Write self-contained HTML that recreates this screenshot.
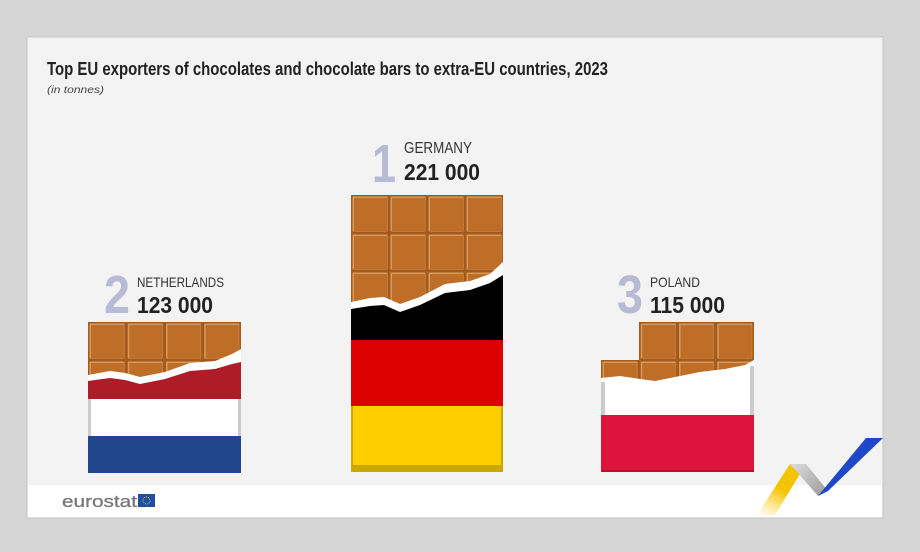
<!DOCTYPE html>
<html><head><meta charset="utf-8"><style>
html,body{margin:0;padding:0;background:#d5d5d5;}
svg{display:block}
</style></head><body>
<svg width="920" height="552" viewBox="0 0 920 552" xmlns="http://www.w3.org/2000/svg" font-family="Liberation Sans, sans-serif">
<defs>
<pattern id="pg" x="351" y="195" width="38" height="38" patternUnits="userSpaceOnUse">
<rect width="38" height="38" fill="#a35a1c"/><rect x="1.5" y="1.5" width="35" height="35" fill="#d9995a"/><rect x="3" y="3" width="33" height="33" fill="#bf6e28"/></pattern>
<pattern id="pn" x="88" y="322" width="38.25" height="38" patternUnits="userSpaceOnUse">
<rect width="38.25" height="38" fill="#a35a1c"/><rect x="1.5" y="1.5" width="35" height="35" fill="#d9995a"/><rect x="3" y="3" width="33" height="33" fill="#bf6e28"/></pattern>
<pattern id="pp" x="601" y="322" width="38.25" height="38" patternUnits="userSpaceOnUse">
<rect width="38.25" height="38" fill="#a35a1c"/><rect x="1.5" y="1.5" width="35" height="35" fill="#d9995a"/><rect x="3" y="3" width="33" height="33" fill="#bf6e28"/></pattern>
<linearGradient id="yl" x1="0" y1="1" x2="0.5" y2="0"><stop offset="0" stop-color="#ffd42a" stop-opacity="0"/><stop offset="0.6" stop-color="#f5c400"/></linearGradient>
<linearGradient id="gr" x1="0" y1="0" x2="1" y2="1"><stop offset="0" stop-color="#ddd"/><stop offset="1" stop-color="#999"/></linearGradient>
</defs>
<rect x="27" y="37" width="856" height="481" fill="#f3f3f3" stroke="#c8c8c8"/>
<rect x="28" y="485" width="854" height="32" fill="#fff"/>
<text x="47" y="75" font-size="18" font-weight="bold" fill="#222" textLength="561" lengthAdjust="spacingAndGlyphs">Top EU exporters of chocolates and chocolate bars to extra-EU countries, 2023</text>
<text x="47" y="93" font-size="10.5" font-style="italic" fill="#444" textLength="57" lengthAdjust="spacingAndGlyphs">(in tonnes)</text>

<!-- Germany -->
<text x="372" y="182" font-size="54" font-weight="bold" fill="#b8bbd6" textLength="24" lengthAdjust="spacingAndGlyphs">1</text>
<text x="404" y="153" font-size="16" fill="#333" textLength="68" lengthAdjust="spacingAndGlyphs">GERMANY</text>
<text x="404" y="180" font-size="23" font-weight="bold" fill="#222" textLength="76" lengthAdjust="spacingAndGlyphs">221 000</text>
<rect x="351" y="195" width="152" height="130" fill="url(#pg)"/>
<path d="M351 302 L370 298 L384 297 L400 304 L420 297 L445 284 L470 281 L490 274 L503 262 L503 340 L351 340Z" fill="#fff"/>
<path d="M351 309 L370 306 L384 305 L400 312 L420 305 L445 293 L470 290 L490 283 L503 275 L503 340 L351 340Z" fill="#000"/>
<rect x="351" y="340" width="152" height="66" fill="#dd0000"/>
<rect x="351" y="406" width="152" height="66" fill="#c9a800"/>
<rect x="353" y="406" width="148" height="59" fill="#ffce00"/>

<!-- Netherlands -->
<text x="104" y="313" font-size="54" font-weight="bold" fill="#b8bbd6" textLength="26" lengthAdjust="spacingAndGlyphs">2</text>
<text x="137" y="287" font-size="14" fill="#333" textLength="87" lengthAdjust="spacingAndGlyphs">NETHERLANDS</text>
<text x="137" y="313" font-size="23" font-weight="bold" fill="#222" textLength="76" lengthAdjust="spacingAndGlyphs">123 000</text>
<rect x="88" y="322" width="153" height="60" fill="url(#pn)"/>
<path d="M88 375 L110 371 L125 373 L140 377 L165 372 L190 363 L215 361 L232 354 L241 349 L241 400 L88 400Z" fill="#fff"/>
<path d="M88 381 L110 378 L125 380 L140 384 L165 379 L190 371 L215 369 L232 364 L241 362 L241 400 L88 400Z" fill="#ae1c28"/>
<rect x="88" y="399" width="153" height="37" fill="#ccc"/>
<rect x="91" y="399" width="147" height="37" fill="#fff"/>
<rect x="88" y="436" width="153" height="37" fill="#21468b"/>

<!-- Poland -->
<text x="617" y="313" font-size="54" font-weight="bold" fill="#b8bbd6" textLength="26" lengthAdjust="spacingAndGlyphs">3</text>
<text x="650" y="287" font-size="14" fill="#333" textLength="50" lengthAdjust="spacingAndGlyphs">POLAND</text>
<text x="650" y="313" font-size="23" font-weight="bold" fill="#222" textLength="75" lengthAdjust="spacingAndGlyphs">115 000</text>
<rect x="639" y="322" width="115" height="40" fill="url(#pp)"/>
<rect x="601" y="360" width="153" height="25" fill="url(#pp)"/>
<path d="M601 378 L620 376 L640 379 L655 381 L675 377 L700 372 L725 369 L745 365 L754 360 L754 416 L601 416Z" fill="#fff"/>
<rect x="601" y="382" width="4" height="34" fill="#ccc"/><rect x="750" y="366" width="4" height="50" fill="#ccc"/>
<rect x="601" y="415" width="153" height="57" fill="#dc143c"/>
<rect x="601" y="470" width="153" height="2" fill="#b9102f"/>

<!-- footer -->
<text x="62" y="507" font-size="17" fill="#777" stroke="#777" stroke-width="0.3" textLength="75" lengthAdjust="spacingAndGlyphs">eurostat</text>
<rect x="138" y="494" width="17" height="13" fill="#1f4fa0"/>
<circle cx="146.5" cy="500.5" r="3.5" fill="none" stroke="#ffd617" stroke-width="0.8" stroke-dasharray="1 1"/>
<path d="M757 515 L790 464 L806 464 L775 515Z" fill="url(#yl)"/>
<path d="M790 464 L806 464 L828 491 L818 496Z" fill="url(#gr)"/>
<path d="M818 496 L866 438 L883 438 L828 491Z" fill="#1f48c9"/>
</svg>
</body></html>
